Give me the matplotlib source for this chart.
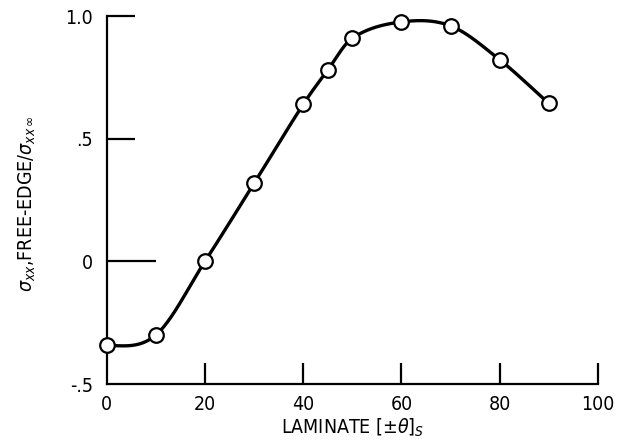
import numpy as np
import matplotlib
matplotlib.use("Agg")
from matplotlib import pyplot as plt

# data
theta = [0, 10, 20, 30, 40, 45, 50, 60, 70, 80, 90]
ratio = [-0.343, -0.30, 0.0, 0.318, 0.64, 0.78, 0.91, 0.976, 0.96, 0.822, 0.644]

x_ticks = [0, 20, 40, 60, 80, 100]
x_tick_labels = ["0", "20", "40", "60", "80", "100"]
y_ticks = [-0.5, 0.0, 0.5, 1.0]
y_tick_labels = ["-.5", "0", ".5", "1.0"]


def smooth_curve(x, y, n=40):
    # cubic hermite pieces through the points, slopes from neighbours
    x = np.asarray(x, float)
    y = np.asarray(y, float)
    m = np.empty_like(y)
    m[1:-1] = (y[2:] - y[:-2]) / (x[2:] - x[:-2])
    m[0] = 0.0
    m[-1] = (y[-1] - y[-2]) / (x[-1] - x[-2])
    xs_all, ys_all = [], []
    for i in range(len(x) - 1):
        h = x[i + 1] - x[i]
        t = np.linspace(0, 1, n)
        h00 = 2 * t ** 3 - 3 * t ** 2 + 1
        h10 = t ** 3 - 2 * t ** 2 + t
        h01 = -2 * t ** 3 + 3 * t ** 2
        h11 = t ** 3 - t ** 2
        xs_all.append(x[i] + t * h)
        ys_all.append(h00 * y[i] + h10 * h * m[i] + h01 * y[i + 1] + h11 * h * m[i + 1])
    return np.concatenate(xs_all), np.concatenate(ys_all)


plt.rcParams["font.family"] = ["DejaVu Sans"]
plt.rcParams["font.stretch"] = "condensed"
plt.rcParams["mathtext.fontset"] = "dejavusans"

fig = plt.figure(figsize=(6.17, 4.46), dpi=100)
ax = fig.add_axes([0.173, 0.139, 0.796, 0.825])

xs, ys = smooth_curve(theta, ratio)
ax.plot(xs, ys, color="black", lw=2.4, clip_on=False, zorder=2)
ax.plot(theta, ratio, "o", ms=10.5, mfc="white", mec="black", mew=1.6, clip_on=False, zorder=3)

ax.set_xlim(0, 100)
ax.set_ylim(-0.5, 1.0)
for s in ["top", "right"]:
    ax.spines[s].set_visible(False)
for s in ["left", "bottom"]:
    ax.spines[s].set_linewidth(1.6)

ax.set_xticks(x_ticks)
ax.set_xticklabels(x_tick_labels, fontsize=14)
ax.set_yticks(y_ticks)
ax.set_yticklabels(y_tick_labels, fontsize=14)
ax.tick_params(axis="x", direction="in", length=15, width=1.6, pad=8)
ax.tick_params(axis="y", direction="in", length=20, width=1.6, pad=10)
ax.yaxis.get_major_ticks()[1].tick1line.set_markersize(35)
ax.yaxis.get_major_ticks()[0].tick1line.set_markersize(0)
ax.xaxis.get_major_ticks()[0].tick1line.set_markersize(0)

ax.set_xlabel(r"LAMINATE [$\pm\theta$]$_S$", fontsize=14, labelpad=2)
ax.set_ylabel(r"$\sigma_{xx}$,FREE-EDGE/$\sigma_{xx\,\infty}$", fontsize=14)
ax.yaxis.set_label_coords(-0.14, 0.49)

fig.savefig("out.png", dpi=100)
plt.close("all")
